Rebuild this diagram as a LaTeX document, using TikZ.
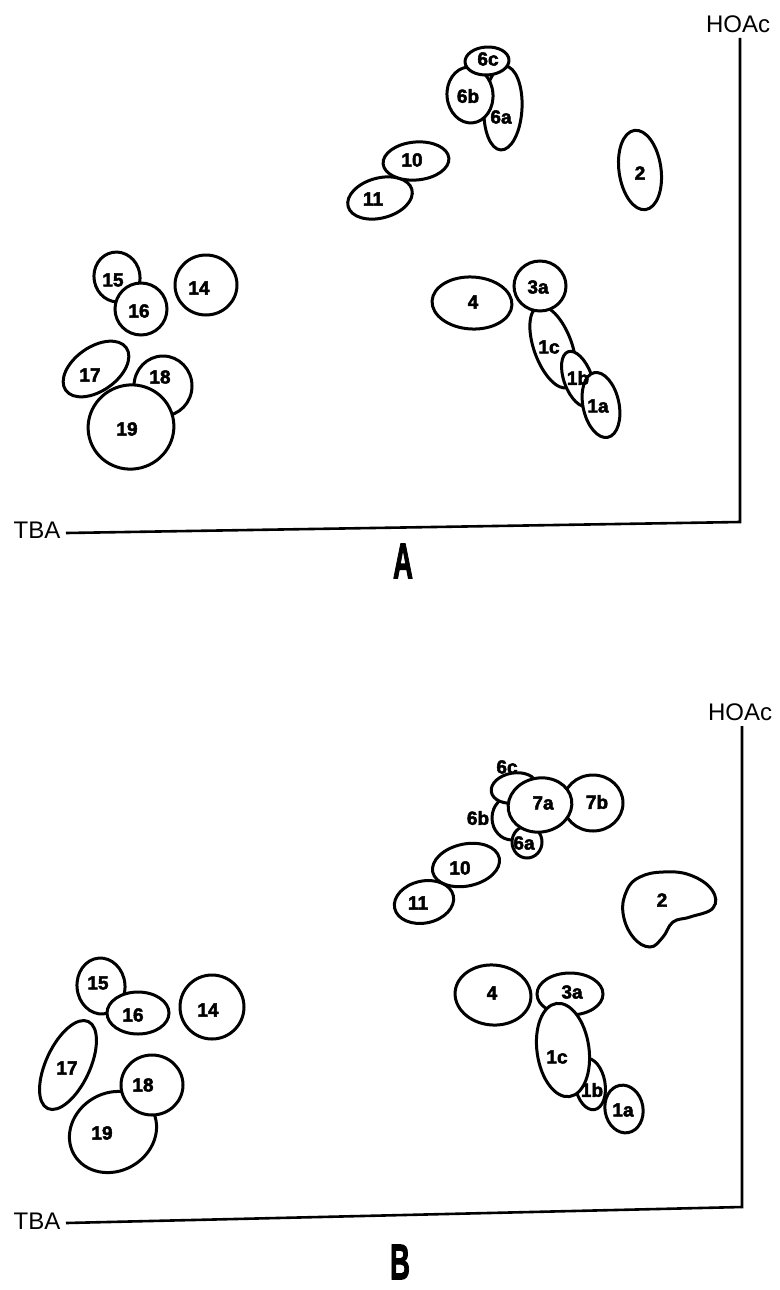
\documentclass[tikz,border=0pt]{standalone}
\usepackage{fontspec}
\setmainfont{Liberation Sans}
\newfontfamily\heavyfont[FakeBold=2.5]{Liberation Sans Bold}
% one spot of the chromatogram: centre x, centre y, x radius, y radius, tilt
\newcommand\spotE[5]{\draw[spot, rotate around={#5:(#1,#2)}] (#1,#2) ellipse [x radius=#3pt, y radius=#4pt];}
\begin{document}
\begin{tikzpicture}[x=1pt,y=-1pt,
  spot/.style={draw=black, fill=white, line width=3pt},
  lbl/.style={font=\fontsize{19}{19}\selectfont\heavyfont, inner sep=0pt},
  axislbl/.style={font=\fontsize{24}{24}\selectfont, inner sep=0pt},
  panellbl/.style={inner sep=0pt},
  axis/.style={line width=2.6pt}]
\fill[white] (0,0) rectangle (779,1290);
\useasboundingbox (0,0) rectangle (779,1290);

% ---------------- panel A ----------------
% axes
\coordinate (aTop) at (740,38);
\coordinate (aCorner) at (740,522);
\coordinate (aLeft) at (66,533);
\draw[axis] (aTop) -- (aCorner) -- (aLeft);
\node[axislbl] (aHOAc) at (738,24) {HOAc};
\node[axislbl] (aTBA) at (37,530) {TBA};
\node[panellbl] (aName) at (403,561) {\scalebox{0.55}[1]{\fontsize{50}{50}\selectfont\heavyfont A}};

% spots, back to front
\spotE{503}{108}{19}{42}{-3}
\spotE{470}{95}{23}{28}{5}
\spotE{487}{61}{22}{14}{3}
\spotE{380}{198}{33}{20}{15}
\spotE{416}{161}{33}{19}{5}
\spotE{640}{170}{21}{40}{8}
\spotE{472}{303}{40}{26}{-3}
\spotE{553}{347}{19}{43}{20}
\spotE{578}{379}{14}{29}{20}
\spotE{601}{405}{18}{33}{12}
\spotE{540}{286}{26}{25}{0}
\spotE{117}{277}{23}{25}{10}
\spotE{141}{309}{26}{26}{0}
\spotE{206}{285}{31}{30}{0}
\spotE{96}{369}{37}{22}{35}
\spotE{163}{386}{29}{30}{0}
\spotE{131}{427}{43}{42}{20}

\node[lbl] (a6c) at (488,59) {6c};
\node[lbl] (a6b) at (468,96) {6b};
\node[lbl] (a6a) at (501,117) {6a};
\node[lbl] (a10) at (412,160) {10};
\node[lbl] (a11) at (373,199) {11};
\node[lbl] (a2) at (640,173) {2};
\node[lbl] (a4) at (473,302) {4};
\node[lbl] (a3a) at (538,287) {3a};
\node[lbl] (a1c) at (549,347) {1c};
\node[lbl] (a1b) at (578,378) {1b};
\node[lbl] (a1a) at (598,406) {1a};
\node[lbl] (a15) at (113,280) {15};
\node[lbl] (a16) at (139,311) {16};
\node[lbl] (a14) at (199,288) {14};
\node[lbl] (a17) at (90,375) {17};
\node[lbl] (a18) at (160,377) {18};
\node[lbl] (a19) at (127,429) {19};

% ---------------- panel B ----------------
\coordinate (bTop) at (742,726);
\coordinate (bCorner) at (742,1207);
\coordinate (bLeft) at (66,1223);
\draw[axis] (bTop) -- (bCorner) -- (bLeft);
\node[axislbl] (bHOAc) at (740,712) {HOAc};
\node[axislbl] (bTBA) at (37,1221) {TBA};
\node[panellbl] (bName) at (400,1262) {\scalebox{0.55}[1]{\fontsize{50}{50}\selectfont\heavyfont B}};

% spots, back to front
\spotE{512}{818}{20}{22}{0}
\spotE{514}{788}{23}{15}{10}
\spotE{527}{842}{15}{16}{0}
\spotE{593}{803}{30}{28}{0}
\spotE{540}{805}{32}{27}{10}
\spotE{424}{902}{30}{21}{12}
\spotE{466}{865}{34}{21}{12}
\draw[spot] plot[smooth cycle, tension=0.7] coordinates {
  (663,872) (690,875) (712,890) (713,908) (690,917) (673,922)
  (663,937) (650,947) (633,937) (623,913) (627,890) (640,877)};
\spotE{493}{995}{38}{30}{-5}
\spotE{570}{994}{33}{21}{0}
\spotE{624}{1109}{19}{24}{10}
\spotE{590}{1084}{15}{26}{10}
\spotE{563}{1050}{26}{47}{8}
\spotE{101}{986}{24}{28}{5}
\spotE{138}{1013}{31}{21}{0}
\spotE{212}{1007}{32}{32}{0}
\spotE{68}{1065}{48}{22}{65}
\spotE{113}{1132}{45}{39}{30}
\spotE{152}{1085}{31}{30}{0}

\node[lbl] (b6c) at (507,767) {6c};
\node[lbl] (b6b) at (478,818) {6b};
\node[lbl] (b7a) at (543,803) {7a};
\node[lbl] (b7b) at (597,802) {7b};
\node[lbl] (b6a) at (524,843) {6a};
\node[lbl] (b10) at (460,868) {10};
\node[lbl] (b11) at (418,903) {11};
\node[lbl] (b2) at (662,900) {2};
\node[lbl] (b4) at (492,993) {4};
\node[lbl] (b3a) at (572,992) {3a};
\node[lbl] (b1c) at (557,1057) {1c};
\node[lbl] (b1b) at (592,1090) {1b};
\node[lbl] (b1a) at (623,1110) {1a};
\node[lbl] (b15) at (98,983) {15};
\node[lbl] (b16) at (133,1015) {16};
\node[lbl] (b14) at (208,1010) {14};
\node[lbl] (b17) at (67,1068) {17};
\node[lbl] (b18) at (143,1085) {18};
\node[lbl] (b19) at (102,1133) {19};
\end{tikzpicture}
\end{document}
